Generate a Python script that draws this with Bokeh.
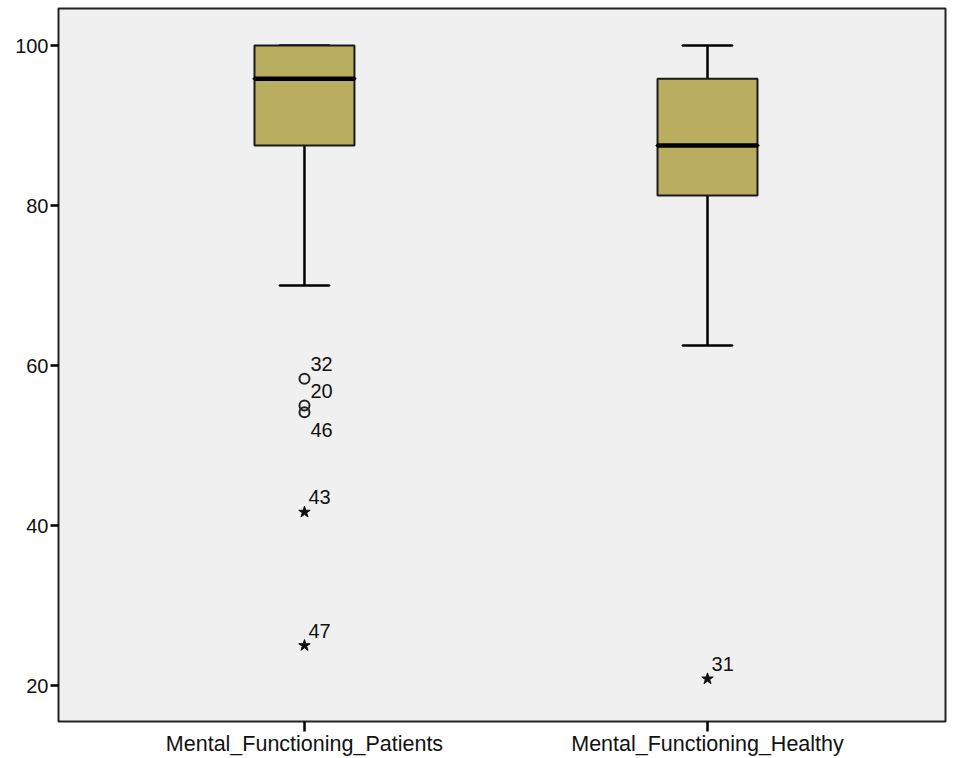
from bokeh.plotting import figure
from bokeh.models import FixedTicker, ColumnDataSource
from bokeh.embed import file_html
from bokeh.resources import INLINE
from bokeh.core.properties import value

categories = ["Mental_Functioning_Patients", "Mental_Functioning_Healthy"]
cat_pos = [1, 2]
q1 = [87.5, 81.25]
median = [95.83, 87.5]
q3 = [100.0, 95.83]
whisker_low = [70.0, 62.5]
whisker_high = [100.0, 100.0]

# outliers (circles)
out_cat = [1, 1, 1]
out_val = [58.33, 55.0, 54.17]
out_lab = ["32", "20", "46"]
out_dy = [-15, -15, 18]  # label offsets in px (style)

# extremes (stars)
ext_cat = [1, 1, 2]
ext_val = [41.67, 25.0, 20.83]
ext_lab = ["43", "47", "31"]

p = figure(width=955, height=758, output_backend="svg", toolbar_location=None,
           x_range=(0.3897, 2.5905), y_range=(15.5, 104.625),
           min_border_left=58, min_border_right=10, min_border_top=8, min_border_bottom=37)
p.background_fill_color = "#f0f0f0"
p.border_fill_color = "white"
p.outline_line_color = "#222222"
p.outline_line_width = 2
p.xgrid.visible = False
p.ygrid.visible = False

box_w = 0.248
cap_w = 0.124

src = ColumnDataSource(dict(x=cat_pos, q1=q1, q3=q3, med=median, lo=whisker_low, hi=whisker_high))
p.segment(x0="x", y0="q3", x1="x", y1="hi", source=src, line_color="black", line_width=2.5)
p.segment(x0="x", y0="lo", x1="x", y1="q1", source=src, line_color="black", line_width=2.5)
p.rect(x="x", y="hi", width=cap_w, height=0.0001, source=src, line_color="black", line_width=2.5, fill_alpha=0)
p.rect(x="x", y="lo", width=cap_w, height=0.0001, source=src, line_color="black", line_width=2.5, fill_alpha=0)
p.vbar(x="x", bottom="q1", top="q3", width=box_w, source=src, fill_color="#b9ae5f",
       line_color="#1a1a1a", line_width=2)
p.rect(x="x", y="med", width=box_w, height=0.0001, source=src, line_color="black", line_width=4.5, fill_alpha=0)

osrc = ColumnDataSource(dict(x=out_cat, y=out_val, t=out_lab, dy=out_dy))
p.scatter(x="x", y="y", source=osrc, marker="circle", size=10, fill_alpha=0,
          line_color="#222222", line_width=2)
p.text(x="x", y="y", text="t", source=osrc, x_offset=6, y_offset="dy",
       text_font=value("Liberation Sans"), text_font_size="20px", text_color="#111111",
       text_baseline="middle")

esrc = ColumnDataSource(dict(x=ext_cat, y=ext_val, t=ext_lab))
p.scatter(x="x", y="y", source=esrc, marker="star", size=12, fill_color="#111111",
          line_color="#111111")
p.text(x="x", y="y", text="t", source=esrc, x_offset=4, y_offset=-15,
       text_font=value("Liberation Sans"), text_font_size="20px", text_color="#111111",
       text_baseline="middle")

p.xaxis.ticker = FixedTicker(ticks=cat_pos)
p.xaxis.major_label_overrides = {c: l for c, l in zip(cat_pos, categories)}
p.yaxis.ticker = FixedTicker(ticks=[20, 40, 60, 80, 100])
for ax in (p.xaxis, p.yaxis):
    ax.axis_line_color = None
    ax.minor_tick_line_color = None
    ax.major_tick_line_color = "black"
    ax.major_tick_line_width = 2.5
    ax.major_label_text_font = "Liberation Sans"
    ax.major_label_text_color = "#111111"
p.yaxis.major_label_text_font_size = "20px"
p.xaxis.major_label_text_font_size = "21.5px"
p.xaxis.major_tick_in = 0
p.xaxis.major_tick_out = 10
p.yaxis.major_tick_in = 0
p.yaxis.major_tick_out = 8
p.yaxis.major_label_standoff = 2
p.xaxis.major_label_standoff = 0

open("out.html", "w").write(file_html(p, INLINE))
